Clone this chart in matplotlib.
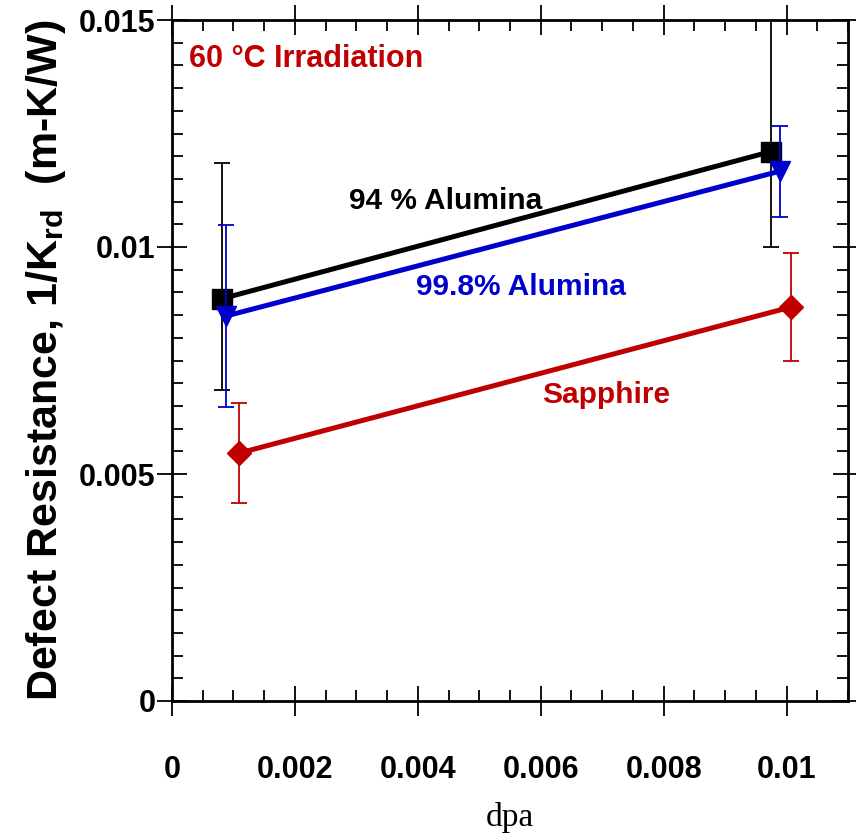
import matplotlib
matplotlib.use("Agg")
import matplotlib.pyplot as plt
from matplotlib.ticker import MultipleLocator

plt.rcParams['font.family'] = ['Liberation Sans', 'DejaVu Sans']
plt.rcParams['mathtext.fontset'] = 'custom'
plt.rcParams['mathtext.bf'] = 'Liberation Sans:bold'
plt.rcParams['mathtext.rm'] = 'Liberation Sans:bold'

# data
dpa_94 = [0.00081, 0.00974]
res_94 = [0.00886, 0.01210]
err_94_lo = [0.0020, 0.0021]
err_94_hi = [0.0030, 0.0035]

dpa_998 = [0.00088, 0.00989]
res_998 = [0.00848, 0.01167]
err_998 = [0.0020, 0.0010]

dpa_sap = [0.00109, 0.01008]
res_sap = [0.00546, 0.00868]
err_sap = [0.0011, 0.00118]

fig = plt.figure(figsize=(8.56, 8.35), dpi=100)
ax = fig.add_axes([172 / 856, 1 - 701 / 835, (848 - 172) / 856, (701 - 20) / 835])

lw = 3.6
ax.errorbar(dpa_94, res_94, yerr=[err_94_lo, err_94_hi], color='black', lw=lw,
            marker='s', ms=14, elinewidth=1.3, capsize=6, capthick=1.3, zorder=3)
ax.errorbar(dpa_998, res_998, yerr=err_998, color='#0000cc', lw=lw,
            marker='v', ms=14, elinewidth=1.3, capsize=6, capthick=1.3, zorder=4)
ax.errorbar(dpa_sap, res_sap, yerr=err_sap, color='#c00000', lw=lw,
            marker='D', ms=12, elinewidth=1.3, capsize=6, capthick=1.3, zorder=3)

ax.set_xlim(0, 0.011)
ax.set_ylim(0, 0.015)
ax.xaxis.set_minor_locator(MultipleLocator(0.0005))
ax.yaxis.set_minor_locator(MultipleLocator(0.0005))
ax.set_xticks([0, 0.002, 0.004, 0.006, 0.008, 0.01])
ax.set_xticklabels(['0', '0.002', '0.004', '0.006', '0.008', '0.01'])
ax.set_yticks([0, 0.005, 0.01, 0.015])
ax.set_yticklabels(['0', '0.005', '0.01', '0.015'])

for s in ax.spines.values():
    s.set_linewidth(2)
ax.tick_params(which='major', direction='inout', length=22, width=1.3,
               top=True, right=True, labelsize=22)
ax.tick_params(which='minor', direction='in', length=8, width=1.3,
               top=True, right=True)
ax.tick_params(axis='x', which='major', pad=28)
ax.tick_params(axis='y', which='major', pad=1)
for lab in ax.get_xticklabels() + ax.get_yticklabels():
    lab.set_fontweight('bold')

ax.set_xlabel('dpa', family='Liberation Serif', fontsize=24, labelpad=12)
ax.set_ylabel(r'Defect Resistance, 1/K$_{\mathbf{rd}}$  (m-K/W)',
              fontsize=31, fontweight='bold', labelpad=8)

ax.text(0.00027, 0.01415, '60 °C Irradiation', color='#c00000', fontsize=22,
        fontweight='bold', va='center', ha='left')
ax.text(0.00445, 0.01102, '94 % Alumina', color='black', fontsize=21.5,
        fontweight='bold', va='center', ha='center')
ax.text(0.00568, 0.00912, '99.8% Alumina', color='#0000cc', fontsize=21.5,
        fontweight='bold', va='center', ha='center')
ax.text(0.00706, 0.00674, 'Sapphire', color='#c00000', fontsize=21.5,
        fontweight='bold', va='center', ha='center')

fig.savefig('out.png', dpi=100)
